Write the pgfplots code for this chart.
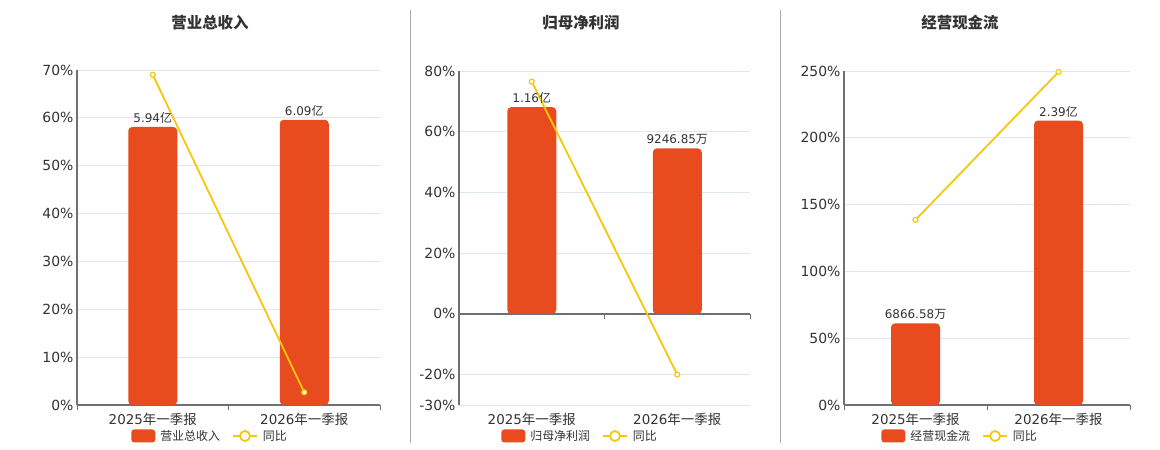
\documentclass[border=0pt]{standalone}
\usepackage{pgfplots}
\pgfplotsset{compat=1.18}
\usepackage{fontspec}
\setmainfont{DejaVu Sans}
\newfontfamily\cjk{Noto Sans CJK SC}
\definecolor{barc}{HTML}{E84B1D}
\definecolor{linec}{HTML}{F4C80C}
\definecolor{axc}{HTML}{6E7079}
\definecolor{gridc}{HTML}{E0E6F1}
\definecolor{txt}{HTML}{333333}
\definecolor{sepc}{HTML}{AAAAAA}
\pgfplotsset{
  panel/.style={
    scale only axis, height=334bp, ymajorgrids, grid style={gridc, line width=0.8bp},
    axis y line*=left, axis x line*=bottom,
    axis line style={axc, line width=1.3bp},
    xmin=-0.5, xmax=1.5, xtick={0,1},
    xticklabels={2025{\cjk 年一季报},2026{\cjk 年一季报}},
    major tick length=0pt,
    ticklabel style={font=\fontsize{13.5}{16}\selectfont, text=txt},
    yticklabel style={font=\fontsize{14}{16}\selectfont},
    xticklabel style={yshift=-5bp},
    clip=false,
    legend style={draw=none, fill=none, legend columns=-1, font=\fontsize{12}{14}\selectfont, text=txt,
      /tikz/every odd column/.append style={column sep=3bp},
      /tikz/every even column/.append style={column sep=10bp}, anchor=center},
  },
  bottomticks/.style={
    extra x ticks={-0.5,0.5,1.5}, extra x tick labels={},
    extra x tick style={major tick length=5bp, tick align=outside, tick style={axc, line width=1bp}, grid=none},
  },
  barplot/.style={ybar, bar width=49bp, bar shift=0pt, fill=barc, draw=none, rounded corners=4bp,
    nodes near coords, point meta=explicit symbolic,
    every node near coord/.append style={font=\fontsize{12}{14}\selectfont, text=txt},
    legend image code/.code={\fill[barc, rounded corners=3bp] (0bp,-6.5bp) rectangle (24bp,6.5bp);}},
  lineplot/.style={linec, line width=1.8bp, mark=*, mark size=2.5bp, mark options={fill=white, draw=linec, line width=1.2bp},
    legend image code/.code={\draw[linec, line width=1.8bp] (0bp,0bp) -- (24bp,0bp); \draw[linec, line width=1.8bp, fill=white] (12bp,0bp) circle (5bp);}},
}
\begin{document}
\begin{tikzpicture}
\useasboundingbox (0,0) rectangle (1160bp,450bp);
\fill[white] (0,0) rectangle (1160bp,450bp);
% titles
\node[font=\cjk\bfseries\fontsize{15.5}{18}\selectfont, text=txt] at (210bp,427bp) {营业总收入};
\node[font=\cjk\bfseries\fontsize{15.5}{18}\selectfont, text=txt] at (581bp,427bp) {归母净利润};
\node[font=\cjk\bfseries\fontsize{15.5}{18}\selectfont, text=txt] at (960bp,427bp) {经营现金流};
% separators
\draw[sepc, line width=1bp] (410.5bp,7bp) -- (410.5bp,440bp);
\draw[sepc, line width=1bp] (780.5bp,7bp) -- (780.5bp,440bp);

% panel 1
\begin{axis}[panel, bottomticks, at={(77bp,45bp)}, anchor=south west, width=303bp, height=335bp,
  ymin=0, ymax=70, ytick={0,10,20,30,40,50,60,70},
  yticklabels={0\%,10\%,20\%,30\%,40\%,50\%,60\%,70\%},
  legend style={at={(0.439,-0.0925)}}]
\addplot[barplot] coordinates {(0,58.1) [5.94{\cjk 亿}] (1,59.6) [6.09{\cjk 亿}]};
\addlegendentry{{\cjk 营业总收入}}
\addplot[lineplot] coordinates {(0,69.0) (1,2.65)};
\addlegendentry{{\cjk 同比}}
\end{axis}

% panel 2
\begin{axis}[panel, at={(459bp,45bp)}, anchor=south west, width=291bp, height=334bp,
  x axis line style={draw=none},
  ymin=-30, ymax=80, ytick={-30,-20,0,20,40,60,80},
  yticklabels={-30\%,-20\%,0\%,20\%,40\%,60\%,80\%},
  legend style={at={(0.416,-0.0928)}}]
\draw[axc, line width=1.3bp] (axis cs:-0.5,0) -- (axis cs:1.5,0);
\draw[axc, line width=1bp] (axis cs:0.5,0) -- ([yshift=-5bp]axis cs:0.5,0);
\draw[axc, line width=1bp] (axis cs:1.5,0) -- ([yshift=-5bp]axis cs:1.5,0);
\addplot[barplot] coordinates {(0,68.1) [1.16{\cjk 亿}] (1,54.5) [9246.85{\cjk 万}]};
\addlegendentry{{\cjk 归母净利润}}
\addplot[lineplot] coordinates {(0,76.5) (1,-20)};
\addlegendentry{{\cjk 同比}}
\end{axis}

% panel 3
\begin{axis}[panel, bottomticks, at={(844bp,45bp)}, anchor=south west, width=286bp, height=334bp,
  ymin=0, ymax=250, ytick={0,50,100,150,200,250},
  yticklabels={0\%,50\%,100\%,150\%,200\%,250\%},
  legend style={at={(0.406,-0.0928)}}]
\addplot[barplot] coordinates {(0,61.1) [6866.58{\cjk 万}] (1,212.9) [2.39{\cjk 亿}]};
\addlegendentry{{\cjk 经营现金流}}
\addplot[lineplot] coordinates {(0,138.6) (1,249.3)};
\addlegendentry{{\cjk 同比}}
\end{axis}
\end{tikzpicture}
\end{document}
